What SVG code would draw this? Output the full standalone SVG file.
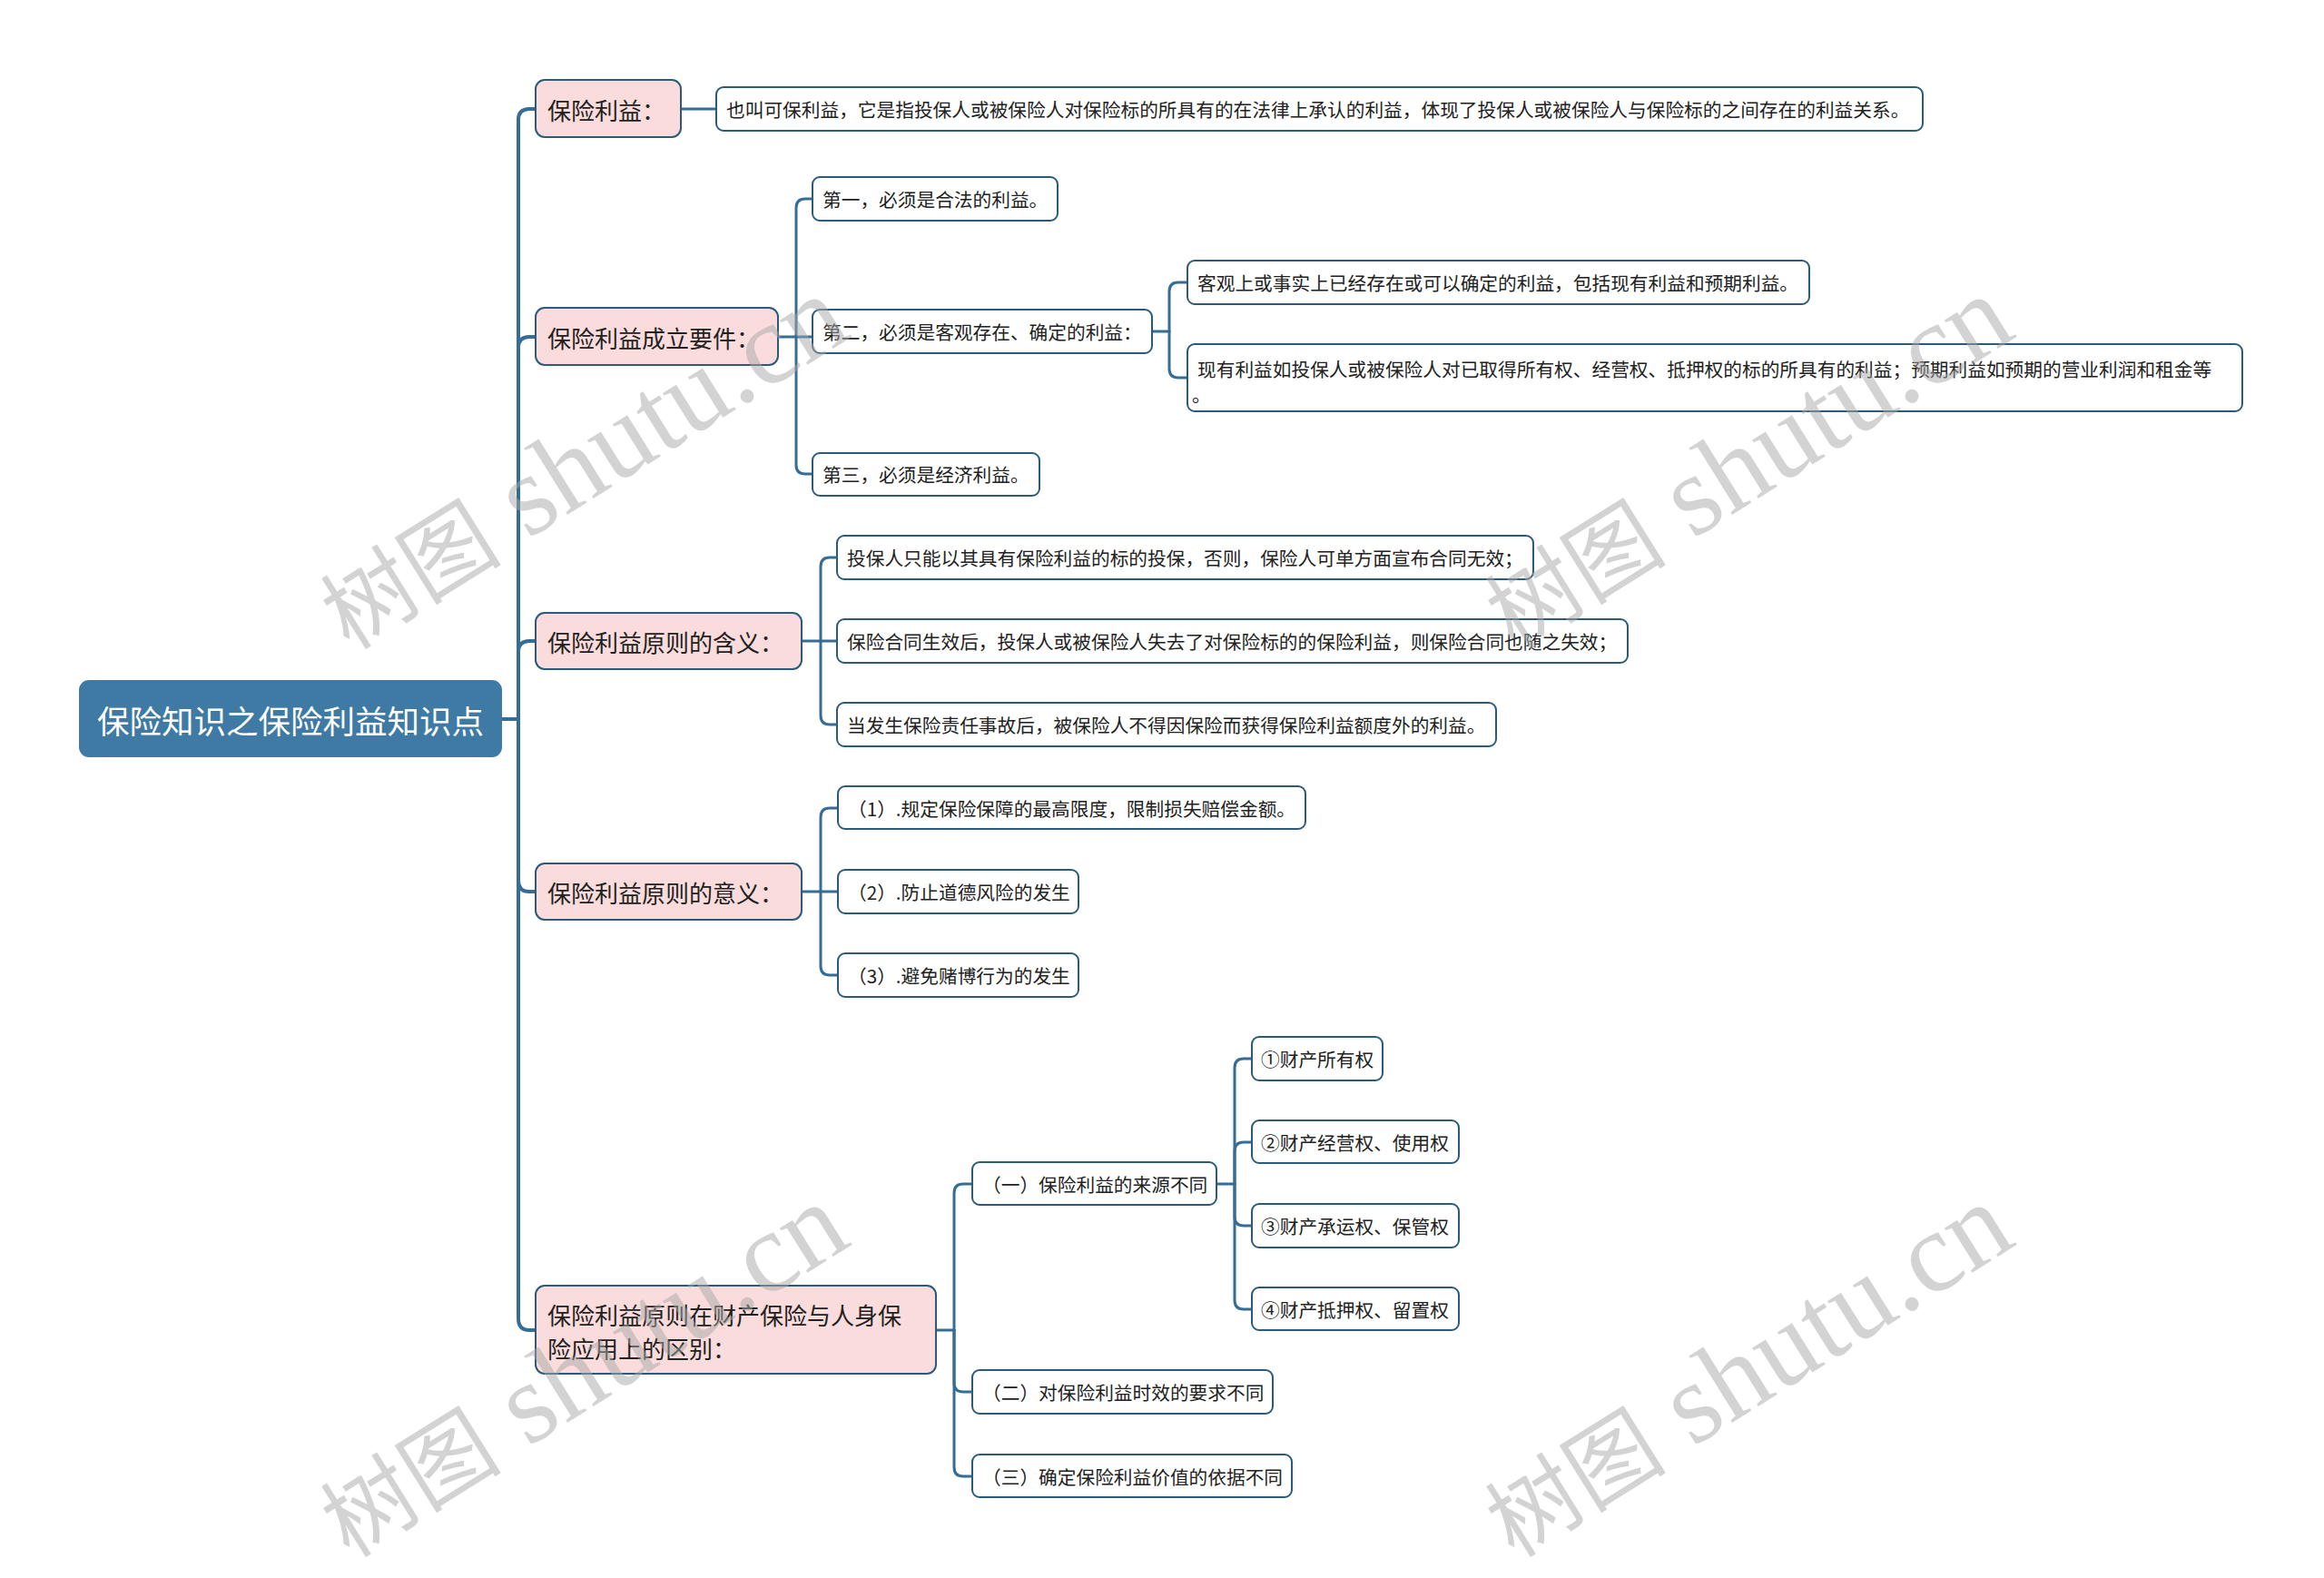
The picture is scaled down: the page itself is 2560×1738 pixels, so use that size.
<svg xmlns="http://www.w3.org/2000/svg" width="2560" height="1738" viewBox="0 0 2560 1738">
<style>
.bg{fill:#ffffff}
.root rect{fill:#3e7aa3;stroke:#3e7aa3;stroke-width:2}
.root text{fill:#ffffff;font-family:"Noto Sans CJK SC","Noto Sans",sans-serif;font-size:35.5px;text-anchor:middle;dominant-baseline:central}
.l1 rect{fill:#fbdcdc;stroke:#2b5a7a;stroke-width:2}
.l1 text{fill:#222222;font-family:"Noto Sans CJK SC","Noto Sans",sans-serif;font-size:26px;dominant-baseline:central}
.l2 rect{fill:#ffffff;stroke:#2b5a7a;stroke-width:2}
.l2 text{fill:#222222;font-family:"Noto Sans CJK SC","Noto Sans",sans-serif;font-size:20.7px;dominant-baseline:central}
.c1{fill:none;stroke:#356d96;stroke-width:4;stroke-linecap:round}
.c2{fill:none;stroke:#356d96;stroke-width:3;stroke-linecap:round}
.wm{fill:#a8a8a8;fill-opacity:0.5;text-anchor:middle}
.wm .cj{font-family:"Noto Sans CJK SC",sans-serif;font-size:100px}
.wm .la{font-family:"Liberation Serif",serif;font-size:126px}
</style>
<rect class="bg" x="0" y="0" width="2560" height="1738"/>

<g id="connectors">
  <path class="c1" d="M552,792 H571"/>
  <path class="c1" d="M571,792 V132 Q571,120 583,120 H590"/>
  <path class="c1" d="M571,792 V383 Q571,371 583,371 H590"/>
  <path class="c1" d="M571,792 V718 Q571,706 583,706 H590"/>
  <path class="c1" d="M571,792 V970 Q571,982 583,982 H590"/>
  <path class="c1" d="M571,792 V1452 Q571,1465 583,1465 H590"/>
  <path class="c2" d="M751,120 H789"/>
  <path class="c2" d="M857,371 H895"/>
  <path class="c2" d="M877,371 V229 Q877,219 887,219 H895"/>
  <path class="c2" d="M877,371 V512 Q877,522 887,522 H895"/>
  <path class="c2" d="M1269,365 H1288"/>
  <path class="c2" d="M1288,365 V321 Q1288,311 1298,311 H1308"/>
  <path class="c2" d="M1288,365 V406 Q1288,416 1298,416 H1308"/>
  <path class="c2" d="M883,706 H922"/>
  <path class="c2" d="M904,706 V624 Q904,614 914,614 H922"/>
  <path class="c2" d="M904,706 V788 Q904,798 914,798 H922"/>
  <path class="c2" d="M883,982 H923"/>
  <path class="c2" d="M904,982 V900 Q904,890 914,890 H923"/>
  <path class="c2" d="M904,982 V1064 Q904,1074 914,1074 H923"/>
  <path class="c2" d="M1031,1465 H1051"/>
  <path class="c2" d="M1051,1465 V1314 Q1051,1304 1061,1304 H1071"/>
  <path class="c2" d="M1051,1465 V1523 Q1051,1533 1061,1533 H1071"/>
  <path class="c2" d="M1051,1465 V1616 Q1051,1626 1061,1626 H1071"/>
  <path class="c2" d="M1340,1304 H1360"/>
  <path class="c2" d="M1360,1304 V1176 Q1360,1166 1370,1166 H1379"/>
  <path class="c2" d="M1360,1304 V1268 Q1360,1258 1370,1258 H1379"/>
  <path class="c2" d="M1360,1304 V1340 Q1360,1350 1370,1350 H1379"/>
  <path class="c2" d="M1360,1304 V1432 Q1360,1442 1370,1442 H1379"/>
</g>

<g id="root" class="root">
  <rect x="88" y="750" width="464" height="83" rx="10"/>
  <text x="320" y="792">保险知识之保险利益知识点</text>
</g>

<g id="n1" class="l1">
  <rect x="590" y="88" width="160" height="63" rx="10"/>
  <text x="603" y="120">保险利益：</text>
</g>
<g id="n1-1" class="l2">
  <rect x="789" y="96" width="1329" height="48" rx="8"/>
  <text x="800" y="120">也叫可保利益，它是指投保人或被保险人对保险标的所具有的在法律上承认的利益，体现了投保人或被保险人与保险标的之间存在的利益关系。</text>
</g>

<g id="n2" class="l1">
  <rect x="590" y="339" width="267" height="63" rx="10"/>
  <text x="603" y="371">保险利益成立要件：</text>
</g>
<g id="n2-1" class="l2">
  <rect x="895" y="195" width="270" height="48" rx="8"/>
  <text x="906" y="219">第一，必须是合法的利益。</text>
</g>
<g id="n2-2" class="l2">
  <rect x="895" y="341" width="374" height="48" rx="8"/>
  <text x="906" y="365">第二，必须是客观存在、确定的利益：</text>
</g>
<g id="n2-2-1" class="l2">
  <rect x="1308" y="287" width="685" height="48" rx="8"/>
  <text x="1319" y="311">客观上或事实上已经存在或可以确定的利益，包括现有利益和预期利益。</text>
</g>
<g id="n2-2-2" class="l2">
  <rect x="1308" y="379" width="1162" height="74" rx="8"/>
  <text x="1319" y="406">现有利益如投保人或被保险人对已取得所有权、经营权、抵押权的标的所具有的利益；预期利益如预期的营业利润和租金等</text>
  <text x="1313" y="434">。</text>
</g>
<g id="n2-3" class="l2">
  <rect x="895" y="499" width="250" height="47" rx="8"/>
  <text x="906" y="522">第三，必须是经济利益。</text>
</g>

<g id="n3" class="l1">
  <rect x="590" y="675" width="293" height="62" rx="10"/>
  <text x="603" y="706">保险利益原则的含义：</text>
</g>
<g id="n3-1" class="l2">
  <rect x="922" y="590" width="767" height="48" rx="8"/>
  <text x="933" y="614">投保人只能以其具有保险利益的标的投保，否则，保险人可单方面宣布合同无效；</text>
</g>
<g id="n3-2" class="l2">
  <rect x="922" y="682" width="871" height="48" rx="8"/>
  <text x="933" y="706">保险合同生效后，投保人或被保险人失去了对保险标的的保险利益，则保险合同也随之失效；</text>
</g>
<g id="n3-3" class="l2">
  <rect x="922" y="774" width="726" height="48" rx="8"/>
  <text x="933" y="798">当发生保险责任事故后，被保险人不得因保险而获得保险利益额度外的利益。</text>
</g>

<g id="n4" class="l1">
  <rect x="590" y="951" width="293" height="62" rx="10"/>
  <text x="603" y="982">保险利益原则的意义：</text>
</g>
<g id="n4-1" class="l2">
  <rect x="923" y="866" width="515" height="47" rx="8"/>
  <text x="934" y="890">（1）.规定保险保障的最高限度，限制损失赔偿金额。</text>
</g>
<g id="n4-2" class="l2">
  <rect x="923" y="958" width="265" height="48" rx="8"/>
  <text x="934" y="982">（2）.防止道德风险的发生</text>
</g>
<g id="n4-3" class="l2">
  <rect x="923" y="1050" width="265" height="48" rx="8"/>
  <text x="934" y="1074">（3）.避免赌博行为的发生</text>
</g>

<g id="n5" class="l1">
  <rect x="590" y="1416" width="441" height="97" rx="10"/>
  <text x="603" y="1447">保险利益原则在财产保险与人身保</text>
  <text x="603" y="1484">险应用上的区别：</text>
</g>
<g id="n5-1" class="l2">
  <rect x="1071" y="1280" width="269" height="47" rx="8"/>
  <text x="1082" y="1304">（一）保险利益的来源不同</text>
</g>
<g id="n5-1-1" class="l2">
  <rect x="1379" y="1142" width="144" height="48" rx="8"/>
  <text x="1389" y="1166">①财产所有权</text>
</g>
<g id="n5-1-2" class="l2">
  <rect x="1379" y="1234" width="228" height="47" rx="8"/>
  <text x="1389" y="1258">②财产经营权、使用权</text>
</g>
<g id="n5-1-3" class="l2">
  <rect x="1379" y="1326" width="228" height="48" rx="8"/>
  <text x="1389" y="1350">③财产承运权、保管权</text>
</g>
<g id="n5-1-4" class="l2">
  <rect x="1379" y="1418" width="228" height="47" rx="8"/>
  <text x="1389" y="1442">④财产抵押权、留置权</text>
</g>
<g id="n5-2" class="l2">
  <rect x="1071" y="1509" width="331" height="48" rx="8"/>
  <text x="1082" y="1533">（二）对保险利益时效的要求不同</text>
</g>
<g id="n5-3" class="l2">
  <rect x="1071" y="1602" width="352" height="47" rx="8"/>
  <text x="1082" y="1626">（三）确定保险利益价值的依据不同</text>
</g>

<g id="watermarks" class="wm">
  <text transform="translate(643,512) rotate(-32)" y="37"><tspan class="cj">树图</tspan><tspan class="la"> shutu.cn</tspan></text>
  <text transform="translate(1926,512) rotate(-32)" y="37"><tspan class="cj">树图</tspan><tspan class="la"> shutu.cn</tspan></text>
  <text transform="translate(643,1512) rotate(-32)" y="37"><tspan class="cj">树图</tspan><tspan class="la"> shutu.cn</tspan></text>
  <text transform="translate(1926,1512) rotate(-32)" y="37"><tspan class="cj">树图</tspan><tspan class="la"> shutu.cn</tspan></text>
</g>
</svg>
